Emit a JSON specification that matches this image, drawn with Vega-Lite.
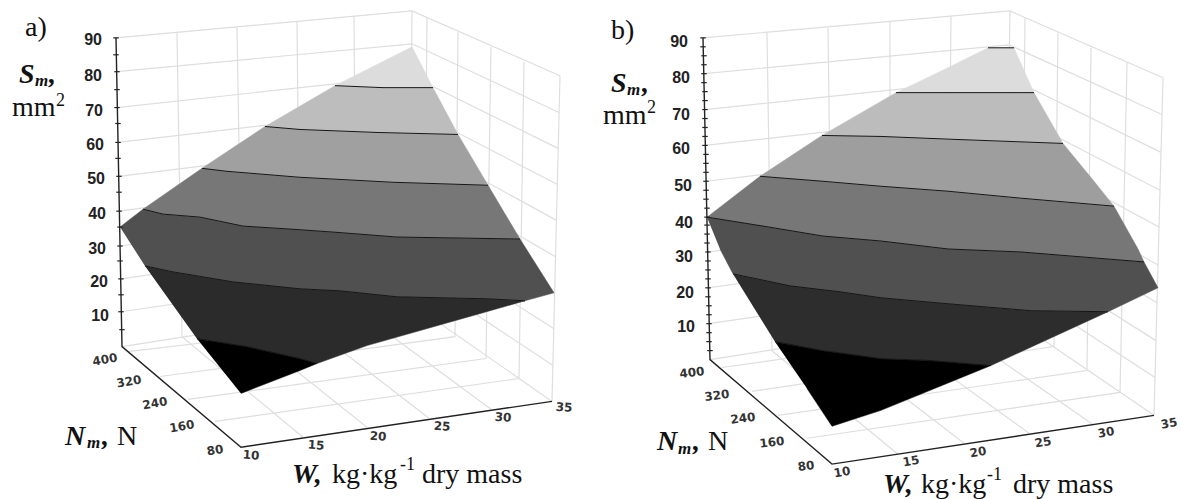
{"$schema":"https://vega.github.io/schema/vega-lite/v6.json","width":1181,"height":499,"autosize":{"type":"fit","contains":"padding"},"padding":0,"background":"white","view":{"stroke":null},
"datasets":{
"grid":[
{"g":"a90","o":0,"x":116,"y":38},{"g":"a90","o":1,"x":412,"y":11},{"g":"a90","o":2,"x":560,"y":76},
{"g":"a80","o":0,"x":117,"y":72},{"g":"a80","o":1,"x":412,"y":44},{"g":"a80","o":2,"x":559,"y":113},
{"g":"a70","o":0,"x":117,"y":108},{"g":"a70","o":1,"x":411,"y":76},{"g":"a70","o":2,"x":558,"y":149},
{"g":"a60","o":0,"x":118,"y":143},{"g":"a60","o":1,"x":411,"y":109},{"g":"a60","o":2,"x":557,"y":185},
{"g":"a50","o":0,"x":119,"y":177},{"g":"a50","o":1,"x":411,"y":141},{"g":"a50","o":2,"x":556,"y":221},
{"g":"a40","o":0,"x":119,"y":212},{"g":"a40","o":1,"x":410,"y":173},{"g":"a40","o":2,"x":556,"y":258},
{"g":"a30","o":0,"x":120,"y":247},{"g":"a30","o":1,"x":410,"y":206},{"g":"a30","o":2,"x":555,"y":294},
{"g":"a20","o":0,"x":121,"y":280},{"g":"a20","o":1,"x":410,"y":238},{"g":"a20","o":2,"x":554,"y":330},
{"g":"a10","o":0,"x":121,"y":313},{"g":"a10","o":1,"x":409,"y":271},{"g":"a10","o":2,"x":553,"y":367},
{"g":"a0","o":0,"x":122,"y":348},{"g":"a0","o":1,"x":409,"y":303},{"g":"a0","o":2,"x":552,"y":403},
{"g":"av1","o":0,"x":177,"y":33},{"g":"av1","o":1,"x":182,"y":338},{"g":"av1","o":2,"x":303,"y":439},
{"g":"av2","o":0,"x":237,"y":27},{"g":"av2","o":1,"x":242,"y":329},{"g":"av2","o":2,"x":367,"y":429},
{"g":"av3","o":0,"x":297,"y":21},{"g":"av3","o":1,"x":300,"y":320},{"g":"av3","o":2,"x":429,"y":420},
{"g":"av4","o":0,"x":354,"y":16},{"g":"av4","o":1,"x":356,"y":311},{"g":"av4","o":2,"x":491,"y":411},
{"g":"av5","o":0,"x":412,"y":11},{"g":"av5","o":1,"x":409,"y":303},
{"g":"ar1","o":0,"x":427,"y":18},{"g":"ar1","o":1,"x":424,"y":318},{"g":"ar1","o":2,"x":128,"y":353},
{"g":"ar2","o":0,"x":458,"y":32},{"g":"ar2","o":1,"x":455,"y":338},{"g":"ar2","o":2,"x":160,"y":378},
{"g":"ar3","o":0,"x":491,"y":47},{"g":"ar3","o":1,"x":486,"y":360},{"g":"ar3","o":2,"x":188,"y":401},
{"g":"ar4","o":0,"x":524,"y":62},{"g":"ar4","o":1,"x":519,"y":380},{"g":"ar4","o":2,"x":215,"y":423},
{"g":"ar5","o":0,"x":560,"y":76},{"g":"ar5","o":1,"x":552,"y":403},
{"g":"b90","o":0,"x":703,"y":38},{"g":"b90","o":1,"x":1010,"y":11},{"g":"b90","o":2,"x":1163,"y":78},
{"g":"b80","o":0,"x":704,"y":74},{"g":"b80","o":1,"x":1009,"y":45},{"g":"b80","o":2,"x":1162,"y":115},
{"g":"b70","o":0,"x":705,"y":110},{"g":"b70","o":1,"x":1009,"y":78},{"g":"b70","o":2,"x":1161,"y":153},
{"g":"b60","o":0,"x":705,"y":146},{"g":"b60","o":1,"x":1008,"y":112},{"g":"b60","o":2,"x":1160,"y":191},
{"g":"b50","o":0,"x":706,"y":182},{"g":"b50","o":1,"x":1008,"y":146},{"g":"b50","o":2,"x":1159,"y":228},
{"g":"b40","o":0,"x":707,"y":218},{"g":"b40","o":1,"x":1007,"y":180},{"g":"b40","o":2,"x":1158,"y":266},
{"g":"b30","o":0,"x":708,"y":253},{"g":"b30","o":1,"x":1007,"y":214},{"g":"b30","o":2,"x":1157,"y":304},
{"g":"b20","o":0,"x":708,"y":289},{"g":"b20","o":1,"x":1006,"y":247},{"g":"b20","o":2,"x":1156,"y":342},
{"g":"b10","o":0,"x":709,"y":325},{"g":"b10","o":1,"x":1006,"y":281},{"g":"b10","o":2,"x":1155,"y":379},
{"g":"b0","o":0,"x":710,"y":361},{"g":"b0","o":1,"x":1005,"y":315},{"g":"b0","o":2,"x":1154,"y":417},
{"g":"bv1","o":0,"x":767,"y":33},{"g":"bv1","o":1,"x":772,"y":352},{"g":"bv1","o":2,"x":898,"y":456},
{"g":"bv2","o":0,"x":828,"y":28},{"g":"bv2","o":1,"x":832,"y":343},{"g":"bv2","o":2,"x":964,"y":445},
{"g":"bv3","o":0,"x":890,"y":22},{"g":"bv3","o":1,"x":890,"y":334},{"g":"bv3","o":2,"x":1029,"y":435},
{"g":"bv4","o":0,"x":951,"y":16},{"g":"bv4","o":1,"x":948,"y":325},{"g":"bv4","o":2,"x":1094,"y":427},
{"g":"bv5","o":0,"x":1010,"y":11},{"g":"bv5","o":1,"x":1005,"y":315},
{"g":"br1","o":0,"x":1025,"y":18},{"g":"br1","o":1,"x":1022,"y":326},{"g":"br1","o":2,"x":722,"y":369},
{"g":"br2","o":0,"x":1058,"y":33},{"g":"br2","o":1,"x":1054,"y":348},{"g":"br2","o":2,"x":752,"y":393},
{"g":"br3","o":0,"x":1091,"y":48},{"g":"br3","o":1,"x":1087,"y":372},{"g":"br3","o":2,"x":778,"y":417},
{"g":"br4","o":0,"x":1127,"y":63},{"g":"br4","o":1,"x":1120,"y":394},{"g":"br4","o":2,"x":807,"y":440},
{"g":"br5","o":0,"x":1163,"y":78},{"g":"br5","o":1,"x":1154,"y":417}
],
"bands":[
{"b":"a1","o":0,"x":197,"y":340},{"b":"a1","o":1,"x":247,"y":348},{"b":"a1","o":2,"x":300,"y":360},{"b":"a1","o":3,"x":317,"y":365},{"b":"a1","o":4,"x":300,"y":372},{"b":"a1","o":5,"x":241,"y":395},
{"b":"a2","o":0,"x":145,"y":267},{"b":"a2","o":1,"x":173,"y":273},{"b":"a2","o":2,"x":233,"y":283},{"b":"a2","o":3,"x":300,"y":290},{"b":"a2","o":4,"x":340,"y":292},{"b":"a2","o":5,"x":397,"y":298},{"b":"a2","o":6,"x":487,"y":300},{"b":"a2","o":7,"x":525,"y":302},{"b":"a2","o":8,"x":483,"y":314},{"b":"a2","o":9,"x":367,"y":347},{"b":"a2","o":10,"x":317,"y":365},{"b":"a2","o":11,"x":300,"y":360},{"b":"a2","o":12,"x":247,"y":348},{"b":"a2","o":13,"x":197,"y":340},
{"b":"a3","o":0,"x":120,"y":228},{"b":"a3","o":1,"x":143,"y":210},{"b":"a3","o":2,"x":163,"y":215},{"b":"a3","o":3,"x":200,"y":218},{"b":"a3","o":4,"x":243,"y":227},{"b":"a3","o":5,"x":290,"y":230},{"b":"a3","o":6,"x":333,"y":233},{"b":"a3","o":7,"x":397,"y":238},{"b":"a3","o":8,"x":520,"y":240},{"b":"a3","o":9,"x":554,"y":294},{"b":"a3","o":10,"x":525,"y":302},{"b":"a3","o":11,"x":487,"y":300},{"b":"a3","o":12,"x":397,"y":298},{"b":"a3","o":13,"x":340,"y":292},{"b":"a3","o":14,"x":300,"y":290},{"b":"a3","o":15,"x":233,"y":283},{"b":"a3","o":16,"x":173,"y":273},{"b":"a3","o":17,"x":145,"y":267},
{"b":"a4","o":0,"x":143,"y":210},{"b":"a4","o":1,"x":202,"y":169},{"b":"a4","o":2,"x":227,"y":172},{"b":"a4","o":3,"x":300,"y":178},{"b":"a4","o":4,"x":393,"y":183},{"b":"a4","o":5,"x":488,"y":186},{"b":"a4","o":6,"x":520,"y":240},{"b":"a4","o":7,"x":397,"y":238},{"b":"a4","o":8,"x":333,"y":233},{"b":"a4","o":9,"x":290,"y":230},{"b":"a4","o":10,"x":243,"y":227},{"b":"a4","o":11,"x":200,"y":218},{"b":"a4","o":12,"x":163,"y":215},
{"b":"a5","o":0,"x":202,"y":169},{"b":"a5","o":1,"x":265,"y":127},{"b":"a5","o":2,"x":300,"y":130},{"b":"a5","o":3,"x":377,"y":133},{"b":"a5","o":4,"x":458,"y":135},{"b":"a5","o":5,"x":488,"y":186},{"b":"a5","o":6,"x":393,"y":183},{"b":"a5","o":7,"x":300,"y":178},{"b":"a5","o":8,"x":227,"y":172},
{"b":"a6","o":0,"x":265,"y":127},{"b":"a6","o":1,"x":335,"y":86},{"b":"a6","o":2,"x":383,"y":88},{"b":"a6","o":3,"x":433,"y":88},{"b":"a6","o":4,"x":458,"y":135},{"b":"a6","o":5,"x":377,"y":133},{"b":"a6","o":6,"x":300,"y":130},
{"b":"a7","o":0,"x":335,"y":86},{"b":"a7","o":1,"x":412,"y":47},{"b":"a7","o":2,"x":433,"y":88},{"b":"a7","o":3,"x":383,"y":88},
{"b":"b1","o":0,"x":775,"y":343},{"b":"b1","o":1,"x":823,"y":352},{"b":"b1","o":2,"x":881,"y":360},{"b":"b1","o":3,"x":931,"y":362},{"b":"b1","o":4,"x":991,"y":367},{"b":"b1","o":5,"x":881,"y":412},{"b":"b1","o":6,"x":832,"y":428},{"b":"b1","o":7,"x":807,"y":390},
{"b":"b2","o":0,"x":733,"y":275},{"b":"b2","o":1,"x":790,"y":287},{"b":"b2","o":2,"x":840,"y":293},{"b":"b2","o":3,"x":881,"y":299},{"b":"b2","o":4,"x":948,"y":305},{"b":"b2","o":5,"x":1031,"y":312},{"b":"b2","o":6,"x":1108,"y":313},{"b":"b2","o":7,"x":991,"y":367},{"b":"b2","o":8,"x":931,"y":362},{"b":"b2","o":9,"x":881,"y":360},{"b":"b2","o":10,"x":823,"y":352},{"b":"b2","o":11,"x":775,"y":343},
{"b":"b3","o":0,"x":707,"y":218},{"b":"b3","o":1,"x":763,"y":227},{"b":"b3","o":2,"x":823,"y":237},{"b":"b3","o":3,"x":881,"y":242},{"b":"b3","o":4,"x":948,"y":250},{"b":"b3","o":5,"x":1021,"y":253},{"b":"b3","o":6,"x":1144,"y":263},{"b":"b3","o":7,"x":1158,"y":289},{"b":"b3","o":8,"x":1108,"y":313},{"b":"b3","o":9,"x":1031,"y":312},{"b":"b3","o":10,"x":948,"y":305},{"b":"b3","o":11,"x":881,"y":299},{"b":"b3","o":12,"x":840,"y":293},{"b":"b3","o":13,"x":790,"y":287},{"b":"b3","o":14,"x":733,"y":275},{"b":"b3","o":15,"x":720,"y":250},
{"b":"b4","o":0,"x":707,"y":218},{"b":"b4","o":1,"x":760,"y":177},{"b":"b4","o":2,"x":823,"y":182},{"b":"b4","o":3,"x":881,"y":187},{"b":"b4","o":4,"x":948,"y":192},{"b":"b4","o":5,"x":1021,"y":199},{"b":"b4","o":6,"x":1114,"y":207},{"b":"b4","o":7,"x":1138,"y":250},{"b":"b4","o":8,"x":1144,"y":263},{"b":"b4","o":9,"x":1021,"y":253},{"b":"b4","o":10,"x":948,"y":250},{"b":"b4","o":11,"x":881,"y":242},{"b":"b4","o":12,"x":823,"y":237},{"b":"b4","o":13,"x":763,"y":227},
{"b":"b5","o":0,"x":760,"y":177},{"b":"b5","o":1,"x":822,"y":136},{"b":"b5","o":2,"x":881,"y":137},{"b":"b5","o":3,"x":956,"y":140},{"b":"b5","o":4,"x":1063,"y":144},{"b":"b5","o":5,"x":1094,"y":182},{"b":"b5","o":6,"x":1114,"y":207},{"b":"b5","o":7,"x":1021,"y":199},{"b":"b5","o":8,"x":948,"y":192},{"b":"b5","o":9,"x":881,"y":187},{"b":"b5","o":10,"x":823,"y":182},
{"b":"b6","o":0,"x":822,"y":136},{"b":"b6","o":1,"x":896,"y":93},{"b":"b6","o":2,"x":1034,"y":93},{"b":"b6","o":3,"x":1063,"y":144},{"b":"b6","o":4,"x":956,"y":140},{"b":"b6","o":5,"x":881,"y":137},
{"b":"b7","o":0,"x":896,"y":93},{"b":"b7","o":1,"x":948,"y":68},{"b":"b7","o":2,"x":988,"y":48},{"b":"b7","o":3,"x":1014,"y":48},{"b":"b7","o":4,"x":1034,"y":93}
],
"contours":[
{"c":"a1","o":0,"x":197,"y":340},{"c":"a1","o":1,"x":247,"y":348},{"c":"a1","o":2,"x":300,"y":360},{"c":"a1","o":3,"x":317,"y":365},
{"c":"a2","o":0,"x":145,"y":267},{"c":"a2","o":1,"x":173,"y":273},{"c":"a2","o":2,"x":233,"y":283},{"c":"a2","o":3,"x":300,"y":290},{"c":"a2","o":4,"x":340,"y":292},{"c":"a2","o":5,"x":397,"y":298},{"c":"a2","o":6,"x":487,"y":300},{"c":"a2","o":7,"x":525,"y":302},
{"c":"a3","o":0,"x":143,"y":210},{"c":"a3","o":1,"x":163,"y":215},{"c":"a3","o":2,"x":200,"y":218},{"c":"a3","o":3,"x":243,"y":227},{"c":"a3","o":4,"x":290,"y":230},{"c":"a3","o":5,"x":333,"y":233},{"c":"a3","o":6,"x":397,"y":238},{"c":"a3","o":7,"x":520,"y":240},
{"c":"a4","o":0,"x":202,"y":169},{"c":"a4","o":1,"x":227,"y":172},{"c":"a4","o":2,"x":300,"y":178},{"c":"a4","o":3,"x":393,"y":183},{"c":"a4","o":4,"x":488,"y":186},
{"c":"a5","o":0,"x":265,"y":127},{"c":"a5","o":1,"x":300,"y":130},{"c":"a5","o":2,"x":377,"y":133},{"c":"a5","o":3,"x":458,"y":135},
{"c":"a6","o":0,"x":335,"y":86},{"c":"a6","o":1,"x":383,"y":88},{"c":"a6","o":2,"x":433,"y":88},
{"c":"b1","o":0,"x":775,"y":343},{"c":"b1","o":1,"x":823,"y":352},{"c":"b1","o":2,"x":881,"y":360},{"c":"b1","o":3,"x":931,"y":362},{"c":"b1","o":4,"x":991,"y":367},
{"c":"b2","o":0,"x":733,"y":275},{"c":"b2","o":1,"x":790,"y":287},{"c":"b2","o":2,"x":840,"y":293},{"c":"b2","o":3,"x":881,"y":299},{"c":"b2","o":4,"x":948,"y":305},{"c":"b2","o":5,"x":1031,"y":312},{"c":"b2","o":6,"x":1108,"y":313},
{"c":"b3","o":0,"x":707,"y":218},{"c":"b3","o":1,"x":763,"y":227},{"c":"b3","o":2,"x":823,"y":237},{"c":"b3","o":3,"x":881,"y":242},{"c":"b3","o":4,"x":948,"y":250},{"c":"b3","o":5,"x":1021,"y":253},{"c":"b3","o":6,"x":1144,"y":263},
{"c":"b4","o":0,"x":760,"y":177},{"c":"b4","o":1,"x":823,"y":182},{"c":"b4","o":2,"x":881,"y":187},{"c":"b4","o":3,"x":948,"y":192},{"c":"b4","o":4,"x":1021,"y":199},{"c":"b4","o":5,"x":1114,"y":207},
{"c":"b5","o":0,"x":822,"y":136},{"c":"b5","o":1,"x":881,"y":137},{"c":"b5","o":2,"x":956,"y":140},{"c":"b5","o":3,"x":1063,"y":144},
{"c":"b6","o":0,"x":896,"y":93},{"c":"b6","o":1,"x":1034,"y":93},
{"c":"b7","o":0,"x":988,"y":48},{"c":"b7","o":1,"x":1014,"y":48}
],
"axes":[
{"a":"az","o":0,"x":116,"y":38},{"a":"az","o":1,"x":122,"y":348},{"a":"az","o":2,"x":241,"y":449},{"a":"az","o":3,"x":552,"y":403},
{"a":"bz","o":0,"x":703,"y":38},{"a":"bz","o":1,"x":710,"y":361},{"a":"bz","o":2,"x":832,"y":466},{"a":"bz","o":3,"x":1154,"y":417}
],
"ticks":[
{"x":116,"y":38},{"x":116,"y":55},{"x":117,"y":72},{"x":117,"y":90},{"x":117,"y":108},{"x":118,"y":124},{"x":118,"y":143},{"x":118,"y":159},{"x":119,"y":177},{"x":119,"y":193},{"x":119,"y":212},{"x":120,"y":228},{"x":120,"y":247},{"x":120,"y":262},{"x":121,"y":280},{"x":121,"y":296},{"x":121,"y":313},{"x":122,"y":331},
{"x":703,"y":38},{"x":703,"y":47},{"x":704,"y":56},{"x":704,"y":65},{"x":704,"y":74},{"x":704,"y":83},{"x":705,"y":92},{"x":705,"y":101},{"x":705,"y":110},{"x":705,"y":119},{"x":705,"y":128},{"x":705,"y":137},{"x":705,"y":146},{"x":706,"y":155},{"x":706,"y":164},{"x":706,"y":173},{"x":706,"y":182},{"x":706,"y":191},{"x":706,"y":200},{"x":707,"y":209},{"x":707,"y":218},{"x":707,"y":226},{"x":707,"y":235},{"x":707,"y":244},{"x":708,"y":253},{"x":708,"y":262},{"x":708,"y":271},{"x":708,"y":280},{"x":708,"y":289},{"x":708,"y":298},{"x":709,"y":307},{"x":709,"y":316},{"x":709,"y":325},{"x":709,"y":334},{"x":709,"y":343},{"x":710,"y":352}
],
"labels":[
{"k":"serif","t":"a)","x":25,"y":36},{"k":"serif","t":"mm","x":12,"y":116},{"k":"serif","t":"N","x":117,"y":447},{"k":"serif","t":"kg·kg","x":332,"y":485},{"k":"serif","t":"dry mass","x":422,"y":485},
{"k":"serif","t":"b)","x":611,"y":39},{"k":"serif","t":"mm","x":603,"y":124},{"k":"serif","t":"N","x":708,"y":452},{"k":"serif","t":"kg·kg","x":921,"y":495},{"k":"serif","t":"dry mass","x":1013,"y":495},
{"k":"small","t":"2","x":56,"y":106},{"k":"small","t":"-1","x":400,"y":472},{"k":"small","t":"2","x":647,"y":113},{"k":"small","t":"-1","x":987,"y":482},
{"k":"bi","t":"S","x":19,"y":83},{"k":"bi","t":",","x":49,"y":83},{"k":"bi","t":"N","x":65,"y":447},{"k":"bi","t":",","x":102,"y":447},{"k":"bi","t":"W,","x":292,"y":485},
{"k":"bi","t":"S","x":611,"y":92},{"k":"bi","t":",","x":642,"y":92},{"k":"bi","t":"N","x":657,"y":452},{"k":"bi","t":",","x":693,"y":452},{"k":"bi","t":"W,","x":883,"y":495},
{"k":"bis","t":"m","x":35,"y":86},{"k":"bis","t":"m","x":87,"y":450},{"k":"bis","t":"m","x":627,"y":95},{"k":"bis","t":"m","x":678,"y":456}
],
"zticks":[
{"t":"90","x":102,"y":40},{"t":"80","x":102,"y":76},{"t":"70","x":103,"y":111},{"t":"60","x":104,"y":146},{"t":"50","x":105,"y":180},{"t":"40","x":106,"y":215},{"t":"30","x":106,"y":250},{"t":"20","x":108,"y":283},{"t":"10","x":109,"y":317},
{"t":"90","x":688,"y":42},{"t":"80","x":690,"y":78},{"t":"70","x":690,"y":115},{"t":"60","x":690,"y":150},{"t":"50","x":692,"y":187},{"t":"40","x":693,"y":224},{"t":"30","x":693,"y":258},{"t":"20","x":694,"y":294},{"t":"10","x":695,"y":328}
],
"floorticks":[
{"p":"aN","t":"400","x":105,"y":361},{"p":"aN","t":"320","x":129,"y":383},{"p":"aN","t":"240","x":155,"y":405},{"p":"aN","t":"160","x":182,"y":428},{"p":"aN","t":"80","x":215,"y":452},
{"p":"aW","t":"10","x":251,"y":457},{"p":"aW","t":"15","x":316,"y":447},{"p":"aW","t":"20","x":378,"y":438},{"p":"aW","t":"25","x":442,"y":428},{"p":"aW","t":"30","x":503,"y":419},{"p":"aW","t":"35","x":564,"y":409},
{"p":"bN","t":"400","x":692,"y":374},{"p":"bN","t":"320","x":717,"y":397},{"p":"bN","t":"240","x":743,"y":420},{"p":"bN","t":"160","x":772,"y":444},{"p":"bN","t":"80","x":806,"y":468},
{"p":"bW","t":"10","x":842,"y":474},{"p":"bW","t":"15","x":911,"y":463},{"p":"bW","t":"20","x":978,"y":454},{"p":"bW","t":"25","x":1043,"y":444},{"p":"bW","t":"30","x":1106,"y":434},{"p":"bW","t":"35","x":1169,"y":425}
]
},
"encoding":{
"x":{"field":"x","type":"quantitative","scale":{"domain":[0,1181],"nice":false,"zero":false},"axis":null},
"y":{"field":"y","type":"quantitative","scale":{"domain":[499,0],"nice":false,"zero":false},"axis":null}
},
"layer":[
{"data":{"name":"grid"},"mark":{"type":"line","stroke":"#dedede","strokeWidth":1.2},"encoding":{"detail":{"field":"g"},"order":{"field":"o"}}},
{"data":{"name":"bands"},"mark":{"type":"line","strokeWidth":0.5},"encoding":{"fill":{"field":"b","type":"nominal","legend":null,"scale":{"domain":["a1","a2","a3","a4","a5","a6","a7","b1","b2","b3","b4","b5","b6","b7"],"range":["#000000","#2b2b2b","#505050","#777777","#a0a0a0","#bdbdbd","#dcdcdc","#000000","#2d2d2d","#505050","#777777","#9e9e9e","#bcbcbc","#dcdcdc"]}},"stroke":{"field":"b","type":"nominal","legend":null,"scale":{"domain":["a1","a2","a3","a4","a5","a6","a7","b1","b2","b3","b4","b5","b6","b7"],"range":["#000000","#2b2b2b","#505050","#777777","#a0a0a0","#bdbdbd","#dcdcdc","#000000","#2d2d2d","#505050","#777777","#9e9e9e","#bcbcbc","#dcdcdc"]}},"order":{"field":"o"}}},
{"data":{"name":"contours"},"mark":{"type":"line","stroke":"#151515","strokeWidth":1},"encoding":{"detail":{"field":"c"},"order":{"field":"o"}}},
{"data":{"name":"axes"},"mark":{"type":"line","stroke":"#222222","strokeWidth":1.4},"encoding":{"detail":{"field":"a"},"order":{"field":"o"}}},
{"data":{"name":"ticks"},"mark":{"type":"point","shape":"stroke","stroke":"#222222","strokeWidth":1.2,"size":30,"opacity":1}},
{"data":{"name":"labels"},"transform":[{"filter":"datum.k=='serif'"}],"mark":{"type":"text","font":"Liberation Serif","fontSize":28,"align":"left","baseline":"alphabetic","color":"#111111"},"encoding":{"text":{"field":"t"}}},
{"data":{"name":"labels"},"transform":[{"filter":"datum.k=='small'"}],"mark":{"type":"text","font":"Liberation Serif","fontSize":18,"align":"left","baseline":"alphabetic","color":"#111111"},"encoding":{"text":{"field":"t"}}},
{"data":{"name":"labels"},"transform":[{"filter":"datum.k=='bi'"}],"mark":{"type":"text","font":"Liberation Serif","fontSize":28,"fontWeight":"bold","fontStyle":"italic","align":"left","baseline":"alphabetic","color":"#111111"},"encoding":{"text":{"field":"t"}}},
{"data":{"name":"labels"},"transform":[{"filter":"datum.k=='bis'"}],"mark":{"type":"text","font":"Liberation Serif","fontSize":17,"fontWeight":"bold","fontStyle":"italic","align":"left","baseline":"alphabetic","color":"#111111"},"encoding":{"text":{"field":"t"}}},
{"data":{"name":"zticks"},"mark":{"type":"text","font":"Liberation Sans","fontSize":16,"fontWeight":"bold","align":"right","baseline":"middle","color":"#222222"},"encoding":{"text":{"field":"t"}}},
{"data":{"name":"floorticks"},"transform":[{"filter":"datum.p=='aN'"}],"mark":{"type":"text","font":"DejaVu Sans","fontSize":12,"fontWeight":"bold","align":"center","baseline":"middle","color":"#333333","angle":350},"encoding":{"text":{"field":"t"}}},
{"data":{"name":"floorticks"},"transform":[{"filter":"datum.p=='aW'"}],"mark":{"type":"text","font":"DejaVu Sans","fontSize":12,"fontWeight":"bold","align":"center","baseline":"middle","color":"#333333","angle":4},"encoding":{"text":{"field":"t"}}},
{"data":{"name":"floorticks"},"transform":[{"filter":"datum.p=='bN'"}],"mark":{"type":"text","font":"DejaVu Sans","fontSize":12,"fontWeight":"bold","align":"center","baseline":"middle","color":"#333333","angle":353},"encoding":{"text":{"field":"t"}}},
{"data":{"name":"floorticks"},"transform":[{"filter":"datum.p=='bW'"}],"mark":{"type":"text","font":"DejaVu Sans","fontSize":12,"fontWeight":"bold","align":"center","baseline":"middle","color":"#333333","angle":350},"encoding":{"text":{"field":"t"}}}
]}
